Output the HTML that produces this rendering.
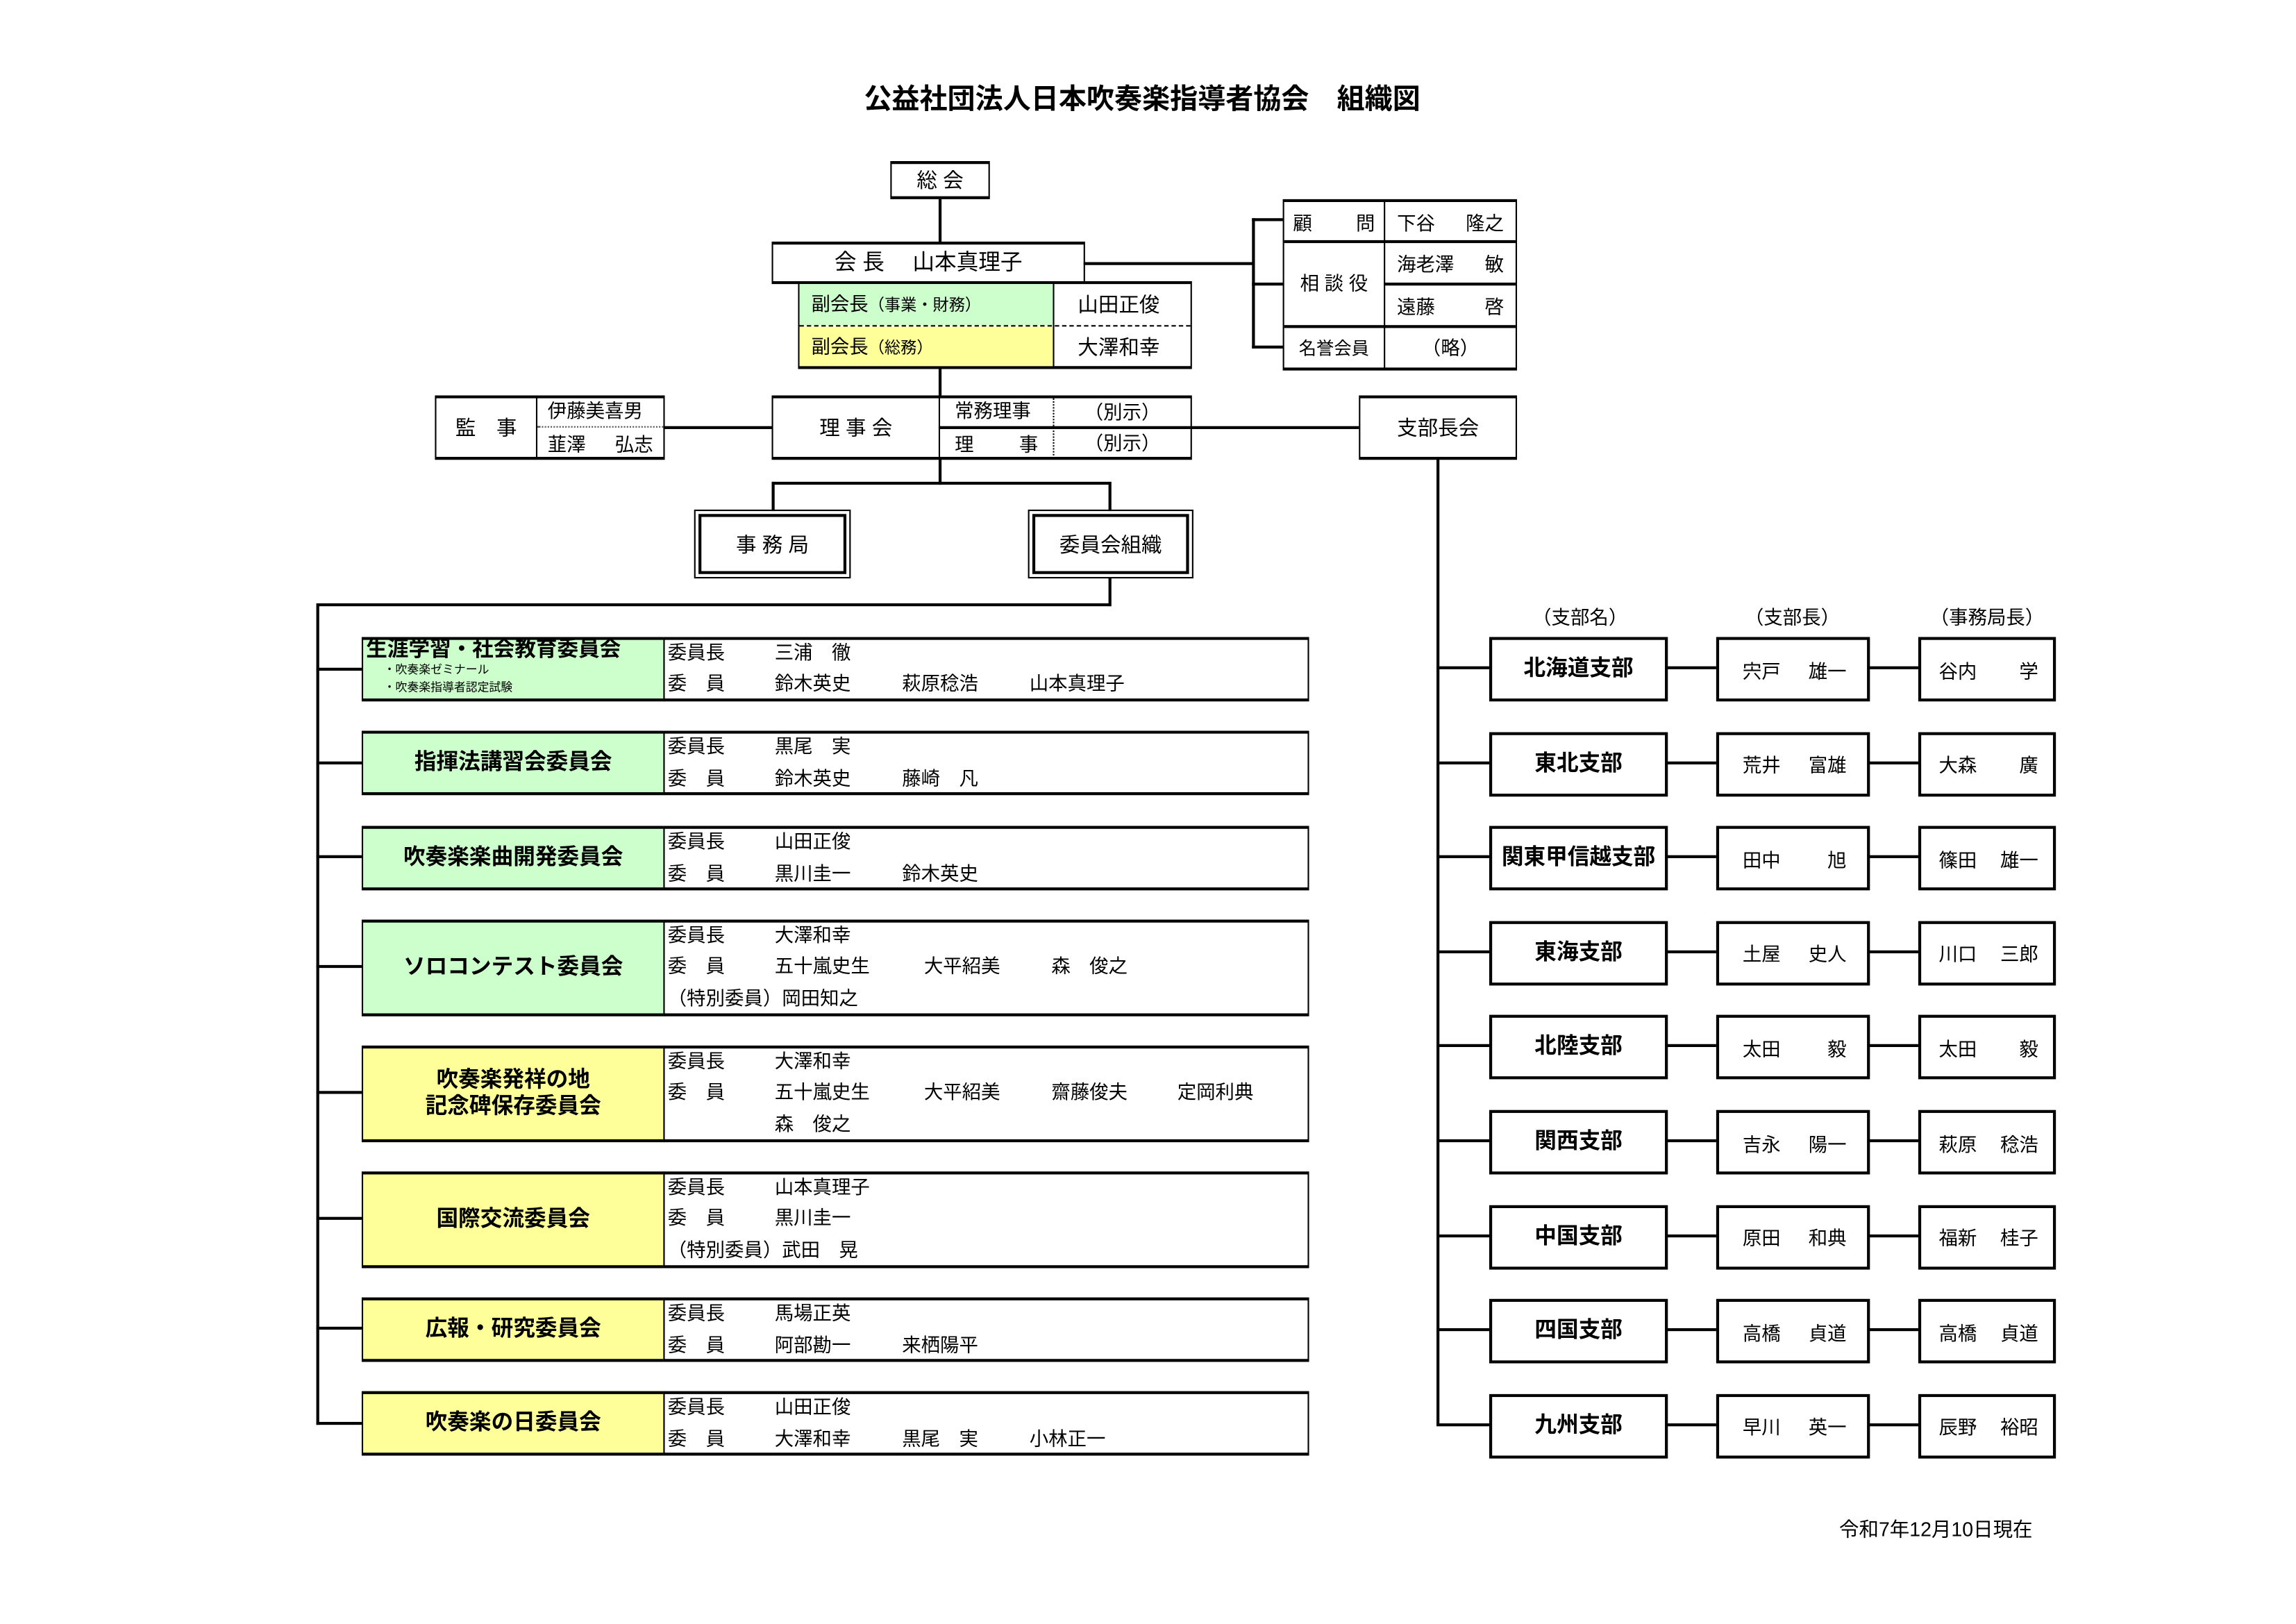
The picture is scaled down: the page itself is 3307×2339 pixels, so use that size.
<!DOCTYPE html>
<html><head><meta charset="utf-8">
<style>
html,body{margin:0;padding:0;background:#fff;}
body{width:3307px;height:2339px;overflow:hidden;position:relative;}
#s{position:absolute;left:0;top:0;width:1568px;height:1109px;transform:scale(2.1091);transform-origin:0 0;font-family:"Liberation Sans","Noto Sans CJK JP",sans-serif;color:#000;}
#s div{position:absolute;box-sizing:border-box;}
.b{border:1px solid #000;border-top-width:2px;border-bottom-width:2px;background:#fff;}
.bb{border:2px solid #000;background:#fff;}
.c{display:flex;align-items:center;justify-content:center;}
.h{background:#000;height:1.5px;}
.v{background:#000;width:1.5px;}
.t{font-size:13px;white-space:nowrap;line-height:16px;}
.bold{font-weight:bold;}
.g{background:#ccffcc;}
.y{background:#ffff99;}
.sp{display:flex;justify-content:space-between;align-items:center;padding:0 10px;font-size:13px;}
.cn{font-size:15px !important;}
</style></head><body><div id="s">

<div class="t bold" style="left:480px;top:57px;width:600px;text-align:center;font-size:19px;line-height:24px;">公益社団法人日本吹奏楽指導者協会　組織図</div>

<!-- 総会 -->
<div class="b c t" style="left:608px;top:110px;width:68px;height:26px;font-size:14px;">総 会</div>
<div class="v" style="left:641px;top:136px;height:30px;"></div>
<div class="b c t" style="left:527px;top:165px;width:214px;height:29px;font-size:15px;">会 長　 山本真理子</div>
<div class="b" style="left:545px;top:192px;width:269px;height:60px;"></div>
<div class="g" style="left:546px;top:194px;width:173px;height:28px;"></div>
<div class="y" style="left:546px;top:223px;width:173px;height:27px;"></div>
<div style="left:546px;top:222px;width:267px;border-top:1.5px dashed #000;"></div>
<div class="v" style="left:719px;top:193px;height:58px;width:1px;"></div>
<div class="t" style="left:554px;top:200px;font-size:13px;">副会長<span style="font-size:11px">（事業・財務）</span></div>
<div class="t" style="left:554px;top:229px;font-size:13px;">副会長<span style="font-size:11px">（総務）</span></div>
<div class="t" style="left:736px;top:200px;font-size:14px;">山田正俊</div>
<div class="t" style="left:736px;top:229px;font-size:14px;">大澤和幸</div>
<div class="v" style="left:641px;top:251px;height:20px;"></div>

<!-- advisors -->
<div class="h" style="left:740px;top:179px;width:116px;"></div>
<div class="v" style="left:855px;top:149px;height:89px;"></div>
<div class="h" style="left:855px;top:149px;width:22px;height:2px;"></div>
<div class="h" style="left:855px;top:193px;width:22px;height:2px;"></div>
<div class="h" style="left:855px;top:236px;width:22px;height:2px;"></div>
<div class="b" style="left:876px;top:136px;width:160px;height:117px;"></div>
<div class="v" style="left:945px;top:137px;height:115px;width:1px;"></div>
<div class="h" style="left:877px;top:164px;width:158px;height:2px;"></div>
<div class="h" style="left:945px;top:193px;width:90px;height:2px;"></div>
<div class="h" style="left:877px;top:222px;width:158px;height:2px;"></div>
<div class="sp" style="left:877px;top:138px;width:68px;height:26px;padding:0 6px;">顧<span>問</span></div>
<div class="sp" style="left:946px;top:138px;width:89px;height:26px;padding:0 8px;">下谷<span>隆之</span></div>
<div class="c t" style="left:877px;top:166px;width:68px;height:56px;">相 談 役</div>
<div class="sp" style="left:946px;top:166px;width:89px;height:27px;padding:0 8px;">海老澤<span>敏</span></div>
<div class="sp" style="left:946px;top:195px;width:89px;height:27px;padding:0 8px;">遠藤<span>啓</span></div>
<div class="c t" style="left:877px;top:224px;width:68px;height:27px;font-size:12px;">名誉会員</div>
<div class="c t" style="left:946px;top:224px;width:89px;height:27px;">（略）</div>

<!-- 監事 -->
<div class="b" style="left:297px;top:270px;width:157px;height:44px;"></div>
<div class="v" style="left:366px;top:271px;height:42px;width:1px;"></div>
<div style="left:367px;top:291px;width:86px;border-top:1.5px dotted #555;"></div>
<div class="c t" style="left:298px;top:272px;width:68px;height:40px;font-size:14px;">監　事</div>
<div class="t" style="left:374px;top:273px;">伊藤美喜男</div>
<div class="sp" style="left:367px;top:293px;width:86px;height:18px;padding:0 7px;">韮澤<span>弘志</span></div>
<div class="h" style="left:453px;top:291px;width:75px;"></div>

<!-- 理事会 -->
<div class="b" style="left:527px;top:270px;width:287px;height:44px;"></div>
<div class="v" style="left:641px;top:271px;height:42px;width:1px;"></div>
<div style="left:719px;top:271px;height:42px;border-left:1px dotted #000;"></div>
<div class="h" style="left:641px;top:291px;width:172px;"></div>
<div class="c t" style="left:528px;top:272px;width:113px;height:40px;font-size:14px;">理 事 会</div>
<div class="t" style="left:652px;top:273px;">常務理事</div>
<div class="sp" style="left:642px;top:293px;width:77px;height:18px;">理<span>事</span></div>
<div class="c t" style="left:720px;top:272px;width:93px;height:19px;">（別示）</div>
<div class="c t" style="left:720px;top:293px;width:93px;height:19px;">（別示）</div>
<div class="h" style="left:813px;top:291px;width:116px;"></div>
<div class="b c t" style="left:928px;top:270px;width:108px;height:44px;font-size:14px;">支部長会</div>

<!-- down -->
<div class="v" style="left:641px;top:313px;height:18px;"></div>
<div class="h" style="left:527px;top:329px;width:231px;"></div>
<div class="v" style="left:527px;top:329px;height:20px;"></div>
<div class="v" style="left:757px;top:329px;height:20px;"></div>
<div style="left:474px;top:348px;width:107px;height:47px;border:1.5px solid #000;"></div>
<div class="c t" style="left:477px;top:351px;width:101px;height:41px;border:2px solid #000;font-size:14px;">事 務 局</div>
<div style="left:702px;top:348px;width:113px;height:47px;border:1.5px solid #000;"></div>
<div class="c t" style="left:705px;top:351px;width:107px;height:41px;border:2px solid #000;font-size:14px;">委員会組織</div>
<div class="v" style="left:757px;top:394px;height:20px;"></div>
<div class="h" style="left:217px;top:412px;width:541px;"></div>
<div class="v" style="left:216px;top:412px;height:561px;"></div>

<!-- committees -->
<div class="h" style="left:216px;top:456px;width:32px;height:2px;"></div>
<div class="b g" style="left:247px;top:435px;width:207px;height:44px;"></div>
<div class="t bold" style="left:250px;top:436px;font-size:14.5px;">生涯学習・社会教育委員会</div>
<div class="t" style="left:262px;top:452px;font-size:8px;line-height:12px;">・吹奏楽ゼミナール<br>・吹奏楽指導者認定試験</div>
<div class="b" style="left:453px;top:435px;width:441px;height:44px;"></div>
<div class="t" style="left:456px;top:438px;">委員長</div><div class="t" style="left:529px;top:438px;">三浦　徹</div>
<div class="t" style="left:456px;top:459px;">委　員</div><div class="t" style="left:529px;top:459px;">鈴木英史</div><div class="t" style="left:616px;top:459px;">萩原稔浩</div><div class="t" style="left:703px;top:459px;">山本真理子</div>

<div class="h" style="left:216px;top:520px;width:32px;height:2px;"></div>
<div class="b g c t bold cn" style="left:247px;top:499px;width:207px;height:44px;">指揮法講習会委員会</div>
<div class="b" style="left:453px;top:499px;width:441px;height:44px;"></div>
<div class="t" style="left:456px;top:502px;">委員長</div><div class="t" style="left:529px;top:502px;">黒尾　実</div>
<div class="t" style="left:456px;top:524px;">委　員</div><div class="t" style="left:529px;top:524px;">鈴木英史</div><div class="t" style="left:616px;top:524px;">藤崎　凡</div>

<div class="h" style="left:216px;top:584px;width:32px;height:2px;"></div>
<div class="b g c t bold cn" style="left:247px;top:564px;width:207px;height:44px;">吹奏楽楽曲開発委員会</div>
<div class="b" style="left:453px;top:564px;width:441px;height:44px;"></div>
<div class="t" style="left:456px;top:567px;">委員長</div><div class="t" style="left:529px;top:567px;">山田正俊</div>
<div class="t" style="left:456px;top:589px;">委　員</div><div class="t" style="left:529px;top:589px;">黒川圭一</div><div class="t" style="left:616px;top:589px;">鈴木英史</div>

<div class="h" style="left:216px;top:659px;width:32px;height:2px;"></div>
<div class="b g c t bold cn" style="left:247px;top:628px;width:207px;height:66px;">ソロコンテスト委員会</div>
<div class="b" style="left:453px;top:628px;width:441px;height:66px;"></div>
<div class="t" style="left:456px;top:631px;">委員長</div><div class="t" style="left:529px;top:631px;">大澤和幸</div>
<div class="t" style="left:456px;top:652px;">委　員</div><div class="t" style="left:529px;top:652px;">五十嵐史生</div><div class="t" style="left:631px;top:652px;">大平紹美</div><div class="t" style="left:718px;top:652px;">森　俊之</div>
<div class="t" style="left:456px;top:674px;">（特別委員）岡田知之</div>

<div class="h" style="left:216px;top:745px;width:32px;height:2px;"></div>
<div class="b y c t bold cn" style="left:247px;top:714px;width:207px;height:66px;text-align:center;line-height:18px;">吹奏楽発祥の地<br>記念碑保存委員会</div>
<div class="b" style="left:453px;top:714px;width:441px;height:66px;"></div>
<div class="t" style="left:456px;top:717px;">委員長</div><div class="t" style="left:529px;top:717px;">大澤和幸</div>
<div class="t" style="left:456px;top:738px;">委　員</div><div class="t" style="left:529px;top:738px;">五十嵐史生</div><div class="t" style="left:631px;top:738px;">大平紹美</div><div class="t" style="left:718px;top:738px;">齋藤俊夫</div><div class="t" style="left:804px;top:738px;">定岡利典</div>
<div class="t" style="left:529px;top:760px;">森　俊之</div>

<div class="h" style="left:216px;top:831px;width:32px;height:2px;"></div>
<div class="b y c t bold cn" style="left:247px;top:800px;width:207px;height:66px;">国際交流委員会</div>
<div class="b" style="left:453px;top:800px;width:441px;height:66px;"></div>
<div class="t" style="left:456px;top:803px;">委員長</div><div class="t" style="left:529px;top:803px;">山本真理子</div>
<div class="t" style="left:456px;top:824px;">委　員</div><div class="t" style="left:529px;top:824px;">黒川圭一</div>
<div class="t" style="left:456px;top:846px;">（特別委員）武田　晃</div>

<div class="h" style="left:216px;top:906px;width:32px;height:2px;"></div>
<div class="b y c t bold cn" style="left:247px;top:886px;width:207px;height:44px;">広報・研究委員会</div>
<div class="b" style="left:453px;top:886px;width:441px;height:44px;"></div>
<div class="t" style="left:456px;top:889px;">委員長</div><div class="t" style="left:529px;top:889px;">馬場正英</div>
<div class="t" style="left:456px;top:911px;">委　員</div><div class="t" style="left:529px;top:911px;">阿部勘一</div><div class="t" style="left:616px;top:911px;">来栖陽平</div>

<div class="h" style="left:216px;top:971px;width:32px;height:2px;"></div>
<div class="b y c t bold cn" style="left:247px;top:950px;width:207px;height:44px;">吹奏楽の日委員会</div>
<div class="b" style="left:453px;top:950px;width:441px;height:44px;"></div>
<div class="t" style="left:456px;top:953px;">委員長</div><div class="t" style="left:529px;top:953px;">山田正俊</div>
<div class="t" style="left:456px;top:975px;">委　員</div><div class="t" style="left:529px;top:975px;">大澤和幸</div><div class="t" style="left:616px;top:975px;">黒尾　実</div><div class="t" style="left:703px;top:975px;">小林正一</div>

<!-- branches -->
<div class="v" style="left:981px;top:313px;height:660px;"></div>
<div class="c t" style="left:1030px;top:413px;width:98px;height:18px;">（支部名）</div>
<div class="c t" style="left:1175px;top:413px;width:98px;height:18px;">（支部長）</div>
<div class="c t" style="left:1305px;top:413px;width:104px;height:18px;">（事務局長）</div>

<div id="br"></div>
<script>
var d=[["北海道支部","宍戸","雄一","谷内","学"],["東北支部","荒井","富雄","大森","廣"],["関東甲信越支部","田中","旭","篠田","雄一"],["東海支部","土屋","史人","川口","三郎"],["北陸支部","太田","毅","太田","毅"],["関西支部","吉永","陽一","萩原","稔浩"],["中国支部","原田","和典","福新","桂子"],["四国支部","高橋","貞道","高橋","貞道"],["九州支部","早川","英一","辰野","裕昭"]];
var h="";
for(var i=0;i<d.length;i++){var y=435+i*64.6;var cy=y+21;
h+='<div class="h" style="left:981px;top:'+(cy-1)+'px;width:37px;height:2px;"></div>';
h+='<div class="bb c t bold" style="left:1017px;top:'+y+'px;width:122px;height:44px;font-size:15px;">'+d[i][0]+'</div>';
h+='<div class="h" style="left:1138px;top:'+(cy-1)+'px;width:35px;height:2px;"></div>';
h+='<div class="bb sp" style="left:1172px;top:'+y+'px;width:105px;height:44px;padding:0 14px 0 16px;"><span>'+d[i][1]+'</span><span>'+d[i][2]+'</span></div>';
h+='<div class="h" style="left:1276px;top:'+(cy-1)+'px;width:35px;height:2px;"></div>';
h+='<div class="bb sp" style="left:1310px;top:'+y+'px;width:94px;height:44px;padding:0 10px 0 12px;"><span>'+d[i][3]+'</span><span>'+d[i][4]+'</span></div>';}
document.getElementById("br").outerHTML=h;
</script>

<div class="t" style="left:1256px;top:1037px;font-size:13.5px;">令和7年12月10日現在</div>
</div></body></html>
